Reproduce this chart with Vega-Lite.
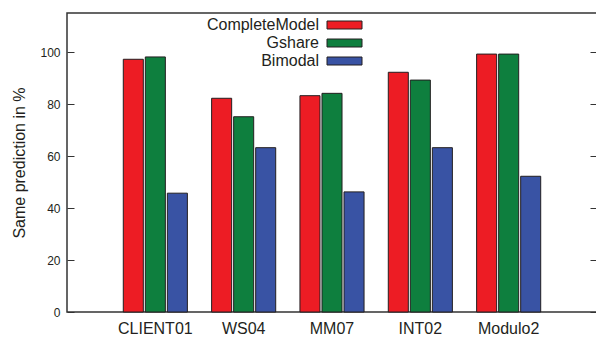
{
  "$schema": "https://vega.github.io/schema/vega-lite/v6.json",
  "autosize": "none",
  "padding": {"left": 67, "top": 13, "right": 0, "bottom": 27},
  "width": 530,
  "height": 299,
  "background": "white",
  "data": {"values": [
    {"bench": "CLIENT01", "model": "CompleteModel", "value": 97.2},
    {"bench": "CLIENT01", "model": "Gshare", "value": 98.1},
    {"bench": "CLIENT01", "model": "Bimodal", "value": 45.7},
    {"bench": "WS04", "model": "CompleteModel", "value": 82.2},
    {"bench": "WS04", "model": "Gshare", "value": 75.1},
    {"bench": "WS04", "model": "Bimodal", "value": 63.2},
    {"bench": "MM07", "model": "CompleteModel", "value": 83.2},
    {"bench": "MM07", "model": "Gshare", "value": 84.1},
    {"bench": "MM07", "model": "Bimodal", "value": 46.2},
    {"bench": "INT02", "model": "CompleteModel", "value": 92.2},
    {"bench": "INT02", "model": "Gshare", "value": 89.2},
    {"bench": "INT02", "model": "Bimodal", "value": 63.2},
    {"bench": "Modulo2", "model": "CompleteModel", "value": 99.2},
    {"bench": "Modulo2", "model": "Gshare", "value": 99.2},
    {"bench": "Modulo2", "model": "Bimodal", "value": 52.2}
  ]},
  "config": {
    "view": {"stroke": "#333333", "strokeWidth": 1.5},
    "font": "Liberation Sans",
    "axis": {"labelFont": "Liberation Sans", "titleFont": "Liberation Sans", "labelColor": "#231f20", "titleColor": "#231f20", "titleFontWeight": "normal"},
    "legend": {"labelFont": "Liberation Sans", "labelColor": "#231f20"}
  },
  "layer": [
    {
      "mark": {"type": "bar", "stroke": "#231f20", "strokeWidth": 1},
      "encoding": {
        "x": {"field": "bench", "type": "nominal", "sort": ["CLIENT01", "WS04", "MM07", "INT02", "Modulo2"],
              "scale": {"paddingOuter": 0.5, "paddingInner": 0},
              "axis": {"title": null, "labelAngle": 0, "ticks": false, "domain": false, "labelFontSize": 16, "labelPadding": 8}},
        "xOffset": {"field": "model", "sort": ["CompleteModel", "Gshare", "Bimodal"], "scale": {"paddingInner": 0.09, "paddingOuter": 0.55}},
        "y": {"field": "value", "type": "quantitative", "scale": {"domain": [0, 115], "nice": false},
              "axis": {"values": [0, 20, 40, 60, 80, 100], "title": "Same prediction in %", "titleFontSize": 16, "titlePadding": 12, "grid": false, "domain": false, "tickSize": -7, "tickColor": "#333333", "tickWidth": 1, "labelFontSize": 12, "labelPadding": 14}},
        "color": {"field": "model", "type": "nominal", "sort": ["CompleteModel", "Gshare", "Bimodal"],
                  "scale": {"domain": ["CompleteModel", "Gshare", "Bimodal"], "range": ["#ed1c24", "#0e7f3e", "#3953a4"]},
                  "legend": {"title": null, "orient": "none", "legendX": 257, "legendY": 4, "direction": "vertical", "padding": 0,
                             "symbolType": "M-1,-0.8H6V0.8H-1Z", "symbolSize": 100, "symbolStrokeColor": "#231f20", "symbolStrokeWidth": 1,
                             "labelFontSize": 16, "labelAlign": "right", "labelOffset": -21, "rowPadding": 2}}
      }
    },
    {
      "mark": {"type": "bar", "opacity": 0},
      "encoding": {
        "x": {"field": "bench", "type": "nominal", "sort": ["CLIENT01", "WS04", "MM07", "INT02", "Modulo2"], "scale": {"paddingOuter": 0.5, "paddingInner": 0},
              "axis": {"title": null, "labelAngle": 0, "ticks": false, "domain": false, "labelFontSize": 16, "labelPadding": 8}},
        "y": {"field": "value", "type": "quantitative", "scale": {"domain": [0, 115], "nice": false},
              "axis": {"orient": "right", "values": [0, 20, 40, 60, 80, 100], "labels": false, "title": null, "grid": false, "domain": false, "tickSize": -7, "tickColor": "#333333", "tickWidth": 1}}
      }
    }
  ],
  "resolve": {"axis": {"y": "independent"}}
}
